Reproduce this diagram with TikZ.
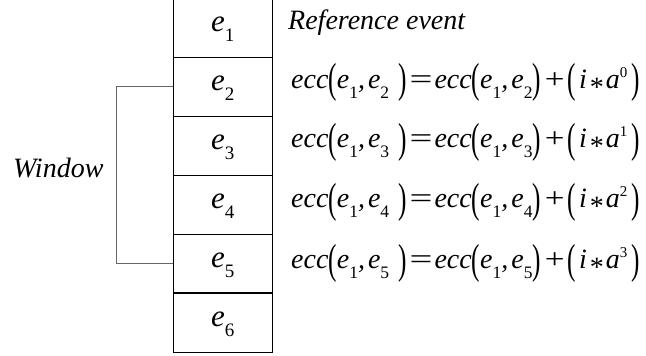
\documentclass[tikz,border=0pt]{standalone}
\usepackage{graphicx}
\usepackage{fontspec}
\setmainfont{Liberation Serif}
\newcommand\mysub[1]{\raisebox{-10.5pt}{\fontsize{17.5}{18}\selectfont\upshape #1}}
\newcommand\boxsub[1]{\raisebox{-10pt}{\fontsize{19}{20}\selectfont\upshape #1}}
\newcommand\mysup[1]{\raisebox{11pt}{\fontsize{15}{16}\selectfont\upshape #1}}
\newcommand\lpar{\raisebox{-5pt}{\scalebox{0.9}[1.5]{\upshape(}}}
\newcommand\rpar{\raisebox{-5pt}{\scalebox{0.9}[1.5]{\upshape)}}}
\newcommand\myeqsign{\kern3pt\scalebox{1.45}[1]{\upshape=}\kern2pt}
\newcommand\myplus{\kern4pt\scalebox{1.25}[1]{\upshape+}\kern3pt}
\newcommand\myast{\kern3pt\raisebox{-8pt}{\upshape*}\kern2pt}
\newcommand\myeq[2]{ecc\lpar e\mysub{1},\kern3pt e\mysub{#1}\kern9pt\rpar\myeqsign ecc\lpar e\mysub{1},\kern3pt e\mysub{#1}\rpar\myplus\lpar\kern3pt i\myast a\mysup{#2}\kern4pt\rpar}
\tikzset{
  evbox/.style={draw, line width=0.9pt, minimum width=99pt, minimum height=59pt, inner sep=0pt},
  evlabel/.style={anchor=base, inner sep=0pt, font=\fontsize{31}{34}\selectfont\itshape},
  txt/.style={anchor=base west, inner sep=0pt, font=\fontsize{28}{30}\selectfont\itshape},
  eqn/.style={anchor=base west, inner sep=0pt, font=\fontsize{28}{30}\selectfont\itshape},
  brk/.style={draw=black!60, line width=0.9pt}
}
\begin{document}
\begin{tikzpicture}[x=1pt,y=-1pt]
\useasboundingbox (0,0) rectangle (646,356);
\foreach \k in {1,...,6}{
  \node[evbox] (b\k) at (222.8, {27.5+59*(\k-1)}) {};
  \node[evlabel] (l\k) at ([yshift=-4pt]b\k.center) {e\boxsub{\k}};
}
\draw[line width=1.8pt] (b6.north west) -- (b6.north east);
\draw[brk] (b2.west) -- ++(-56.5,0) |- (b5.west);
\node[txt] (win) at (13,177) {Window};
\node[txt] (ref) at (288,29) {Reference event};
\node[eqn] (q2) at (291,88) {\myeq{2}{0}};
\node[eqn] (q3) at (291,147) {\myeq{3}{1}};
\node[eqn] (q4) at (291,207) {\myeq{4}{2}};
\node[eqn] (q5) at (291,268) {\myeq{5}{3}};
\end{tikzpicture}
\end{document}
